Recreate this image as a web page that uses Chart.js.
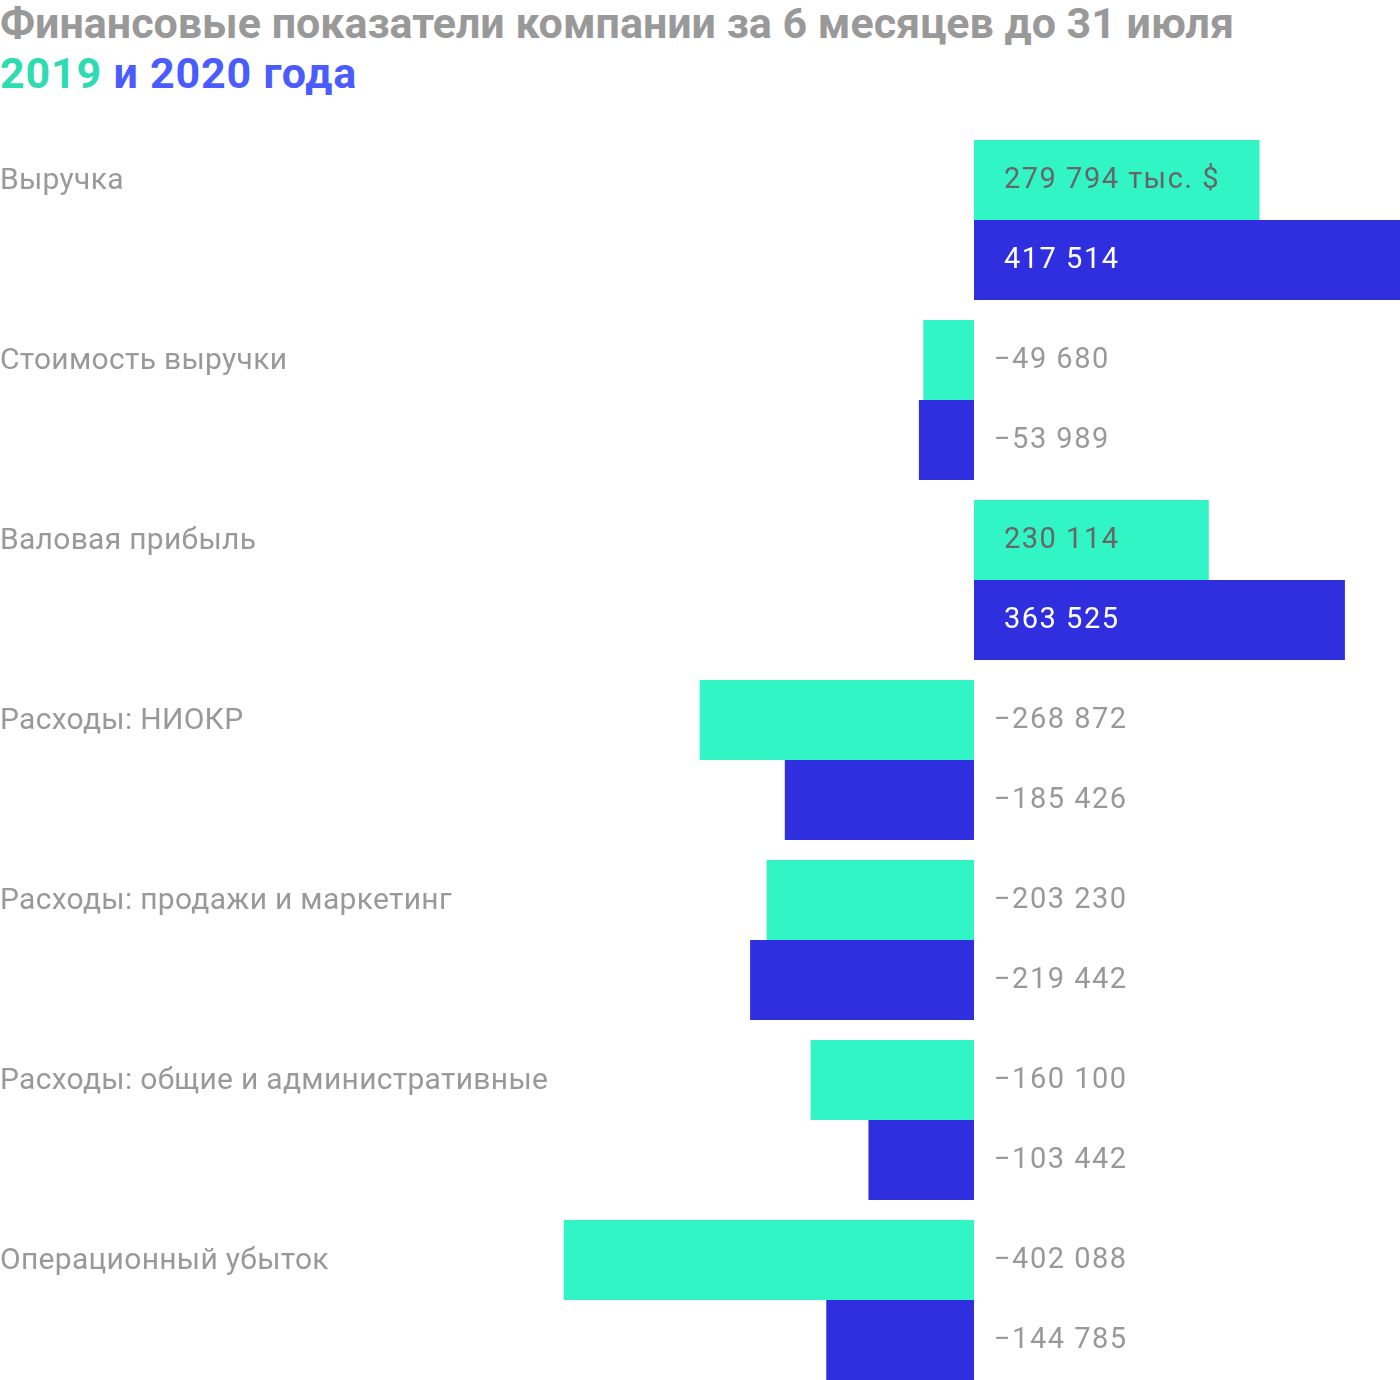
<!DOCTYPE html>
<html><head><meta charset="utf-8">
<script src="https://cdn.jsdelivr.net/npm/chart.js@4/dist/chart.umd.min.js"></script>
<style>
html,body{margin:0;padding:0;background:#fff;width:1400px;height:1380px;overflow:hidden;font-family:Roboto,sans-serif;}
#t1,#t2{position:absolute;left:0;font-weight:700;font-size:43px;line-height:1;white-space:nowrap}
#t1{top:2px;color:#999}
#t2{top:52px;color:#4a5cff;letter-spacing:0.8px}
#t2 .g{color:#2ddcb0}
#wrap{position:absolute;left:0;top:130px;width:1400px;height:1260px}
</style></head><body>
<div id="t1">Финансовые показатели компании за 6 месяцев до 31 июля</div>
<div id="t2"><span class="g">2019</span> и 2020 года</div>
<div id="wrap"><canvas id="c" width="1400" height="1260"></canvas></div>
<script>
const categories = ["Выручка","Стоимость выручки","Валовая прибыль","Расходы: НИОКР","Расходы: продажи и маркетинг","Расходы: общие и административные","Операционный убыток"];
const values2019 = [279794,-49680,230114,-268872,-203230,-160100,-402088];
const values2020 = [417514,-53989,363525,-185426,-219442,-103442,-144785];
const firstLabelSuffix = " тыс. $";

const xMax = 417514;
const xMin = -xMax*974/426;
function fmt(v){
  const a = Math.abs(v).toString().replace(/\B(?=(\d{3})+(?!\d))/g,' ');
  return (v<0?'\u2212':'')+a;
}
const labelPlugin = {
  id:'labels',
  afterDatasetsDraw(chart){
    const ctx = chart.ctx;
    const x0 = chart.scales.x.getPixelForValue(0);
    ctx.save();
    ctx.textBaseline='middle';
    ctx.textAlign='left';
    chart.data.datasets.forEach((ds,di)=>{
      const meta = chart.getDatasetMeta(di);
      meta.data.forEach((bar,i)=>{
        const v = ds.data[i];
        let txt = fmt(v);
        if(di===0 && i===0) txt += firstLabelSuffix;
        ctx.font='29px Roboto';
        ctx.letterSpacing='1.5px';
        if(v>=0){
          ctx.fillStyle = di===0 ? '#666' : '#fff';
          ctx.fillText(txt, x0+30, bar.y+1);
        } else {
          ctx.fillStyle='#999';
          ctx.fillText(txt, x0+20, bar.y+1);
        }
        if(di===0){
          ctx.font='30px Roboto';
          ctx.letterSpacing='0.3px';
          ctx.fillStyle='#999';
          ctx.fillText(chart.data.labels[i], 0, bar.y+1);
        }
      });
    });
    ctx.restore();
  }
};
new Chart(document.getElementById('c'),{
  type:'bar',
  data:{labels:categories,datasets:[
    {label:'2019',data:values2019,backgroundColor:'#32f5c5',borderWidth:0},
    {label:'2020',data:values2020,backgroundColor:'#2f2fe0',borderWidth:0}
  ]},
  options:{
    indexAxis:'y',responsive:false,animation:false,
    layout:{padding:0},
    categoryPercentage:160/180,barPercentage:1,
    plugins:{legend:{display:false},tooltip:{enabled:false}},
    scales:{
      x:{display:false,min:xMin,max:xMax},
      y:{display:false,grid:{display:false}}
    }
  },
  plugins:[labelPlugin]
});
</script>
</body></html>
